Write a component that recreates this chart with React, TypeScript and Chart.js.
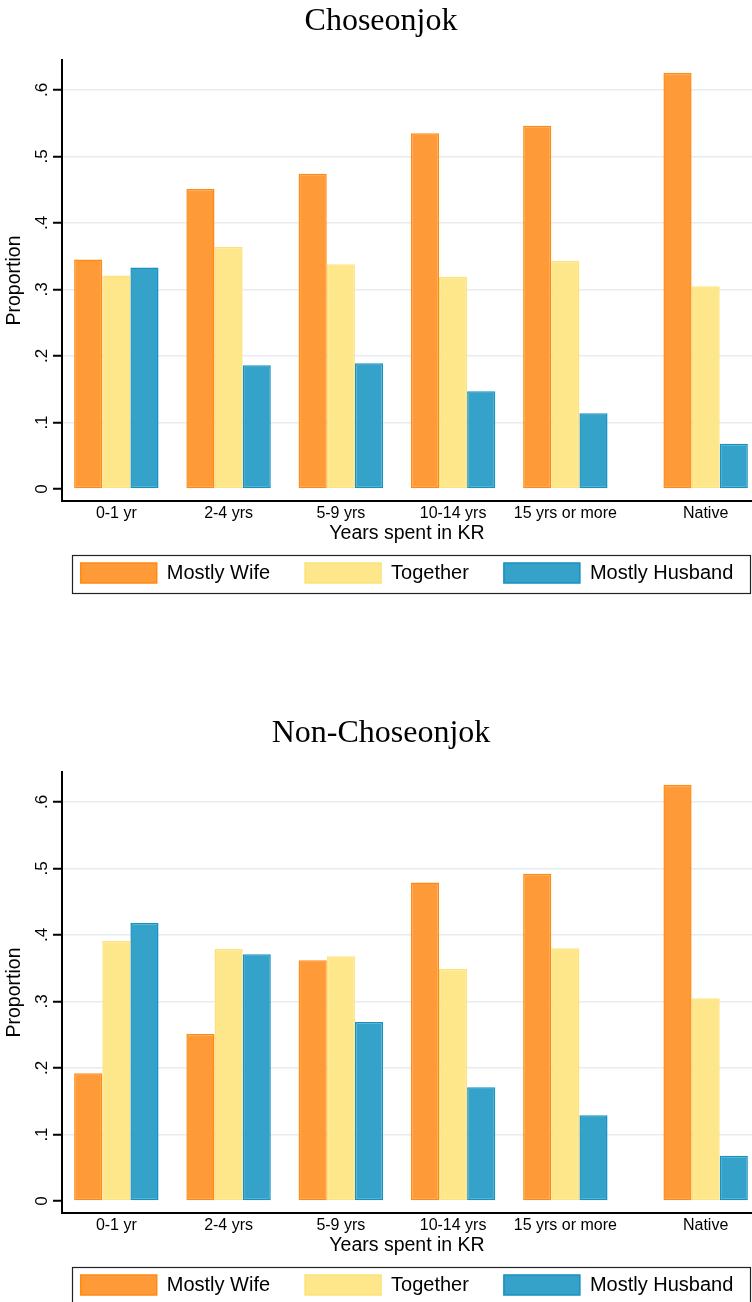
import React, { useEffect, useRef } from "react";
import { Chart, registerables } from "chart.js";

Chart.register(...registerables);
Chart.defaults.font.family = "'Liberation Sans', Arial, Helvetica, sans-serif";
Chart.defaults.color = "#000";

// ---- data ----
const categories = ["0-1 yr", "2-4 yrs", "5-9 yrs", "10-14 yrs", "15 yrs or more", "Native"];
const categoryX = [0, 1, 2, 3, 4, 5.25];
const seriesNames = ["Mostly Wife", "Together", "Mostly Husband"];

const choseonjokWife = [0.345, 0.451, 0.474, 0.535, 0.546, 0.626];
const choseonjokTogether = [0.321, 0.364, 0.338, 0.319, 0.343, 0.305];
const choseonjokHusband = [0.333, 0.186, 0.189, 0.147, 0.114, 0.068];

const nonChoseonjokWife = [0.192, 0.251, 0.362, 0.479, 0.492, 0.626];
const nonChoseonjokTogether = [0.391, 0.379, 0.368, 0.349, 0.38, 0.305];
const nonChoseonjokHusband = [0.418, 0.371, 0.269, 0.171, 0.129, 0.068];

const yTickValues = [0, 0.1, 0.2, 0.3, 0.4, 0.5, 0.6];
const yTickLabels = ["0", ".1", ".2", ".3", ".4", ".5", ".6"];
const xAxisTitle = "Years spent in KR";
const yAxisTitle = "Proportion";
const chartTitles = ["Choseonjok", "Non-Choseonjok"];

// ---- styles ----
const fills = ["#fe9a38", "#fee78b", "#34a2c9"];
const borders = ["#ff8a12", "#fde27a", "#1890c0"];

const placer = {
  id: "placer",
  afterLayout(chart: any) {
    const lg = chart.legend;
    const area = chart.chartArea;
    if (lg && area) {
      const pad = lg.options.labels.padding;
      const dx = (area.left + area.right) / 2 - (lg.left + lg.right) / 2;
      lg.left += dx;
      lg.right += dx;
      const dy = area.bottom + 62 - pad - lg.top;
      lg.top += dy;
      lg.bottom += dy;
    }
    const tb = chart.titleBlock;
    if (tb) {
      tb.left += 5;
      tb.right += 5;
    }
  },
};

const legendFrame = {
  id: "legendFrame",
  afterDraw(chart: any) {
    const hb = chart.legend && chart.legend.legendHitBoxes;
    if (!hb || !hb.length) return;
    const first = hb[0];
    const last = hb[hb.length - 1];
    const l = first.left - 9;
    const r = last.left + last.width + 16;
    const t = first.top - 8;
    const b = first.top + first.height + 9.5;
    const ctx = chart.ctx;
    ctx.save();
    ctx.strokeStyle = "#222";
    ctx.lineWidth = 1.2;
    ctx.strokeRect(Math.round(l) + 0.5, Math.round(t) + 0.5, Math.round(r - l), Math.round(b - t));
    ctx.restore();
  },
};

function makeConfig(title: string, wife: number[], together: number[], husband: number[]): any {
  const seriesValues = [wife, together, husband];
  return {
    type: "bar",
    data: {
      datasets: seriesNames.map((name, s) => ({
        label: name,
        data: categoryX.map((x, i) => ({ x, y: seriesValues[s][i] })),
        backgroundColor: fills[s],
        borderColor: borders[s],
        borderWidth: 1.5,
        borderSkipped: false,
        categoryPercentage: 0.752,
        barPercentage: 1,
      })),
    },
    options: {
      responsive: false,
      maintainAspectRatio: false,
      animation: false,
      layout: { padding: { left: 0, right: 0, top: 0, bottom: 102 } },
      plugins: {
        title: {
          display: true,
          text: title,
          color: "#000",
          font: { family: "'Liberation Serif', 'Times New Roman', serif", size: 32, weight: "normal" },
          padding: { top: 2, bottom: 19.6 },
        },
        legend: {
          display: true,
          position: "bottom",
          labels: {
            boxWidth: 76,
            boxHeight: 20,
            padding: 35,
            color: "#000",
            font: { size: 20 },
          },
        },
        tooltip: { enabled: false },
      },
      scales: {
        x: {
          type: "linear",
          min: -0.484,
          max: 5.663,
          offset: false,
          grid: { display: false, drawTicks: false, offset: false },
          border: { display: true, color: "#000", width: 2 },
          afterBuildTicks: (axis: any) => {
            axis.ticks = categoryX.map((value) => ({ value }));
          },
          ticks: {
            autoSkip: false,
            maxRotation: 0,
            minRotation: 0,
            padding: 3.4,
            color: "#000",
            font: { size: 16 },
            callback: (_v: any, i: number) => categories[i],
          },
          title: {
            display: true,
            text: xAxisTitle,
            color: "#000",
            font: { size: 19.5 },
            padding: { top: -5.4, bottom: 0 },
          },
        },
        y: {
          type: "linear",
          min: -0.018,
          max: 0.645,
          afterBuildTicks: (axis: any) => {
            axis.ticks = yTickValues.map((value) => ({ value }));
          },
          grid: {
            color: (ctx: any) => (ctx.tick && ctx.tick.value === 0 ? "rgba(0,0,0,0)" : "#e6edf1"),
            lineWidth: 1.5,
            drawTicks: true,
            tickLength: 9,
            tickColor: "#000",
            tickWidth: 2,
          },
          border: { display: true, color: "#000", width: 2 },
          ticks: {
            minRotation: 90,
            maxRotation: 90,
            crossAlign: "center",
            padding: 3.4,
            color: "#000",
            font: { size: 17 },
            callback: (_v: any, i: number) => yTickLabels[i],
          },
          title: {
            display: true,
            text: yAxisTitle,
            color: "#000",
            font: { size: 19.5 },
            padding: { top: 3.3, bottom: -0.9 },
          },
        },
      },
    },
    plugins: [placer, legendFrame],
  };
}

function ChartPanel({ build }: { build: () => any }) {
  const ref = useRef<HTMLCanvasElement | null>(null);
  useEffect(() => {
    if (!ref.current) return;
    const chart = new Chart(ref.current, build());
    return () => chart.destroy();
  }, []);
  return (
    <div style={{ width: 752, height: 712, position: "relative" }}>
      <canvas ref={ref} width={752} height={712} style={{ display: "block", width: 752, height: 712 }} />
    </div>
  );
}

export default function App() {
  return (
    <div
      style={{
        position: "fixed",
        left: 0,
        top: 0,
        width: 752,
        height: 1302,
        overflow: "hidden",
        background: "#fff",
      }}
    >
      <ChartPanel build={() => makeConfig(chartTitles[0], choseonjokWife, choseonjokTogether, choseonjokHusband)} />
      <ChartPanel build={() => makeConfig(chartTitles[1], nonChoseonjokWife, nonChoseonjokTogether, nonChoseonjokHusband)} />
    </div>
  );
}
